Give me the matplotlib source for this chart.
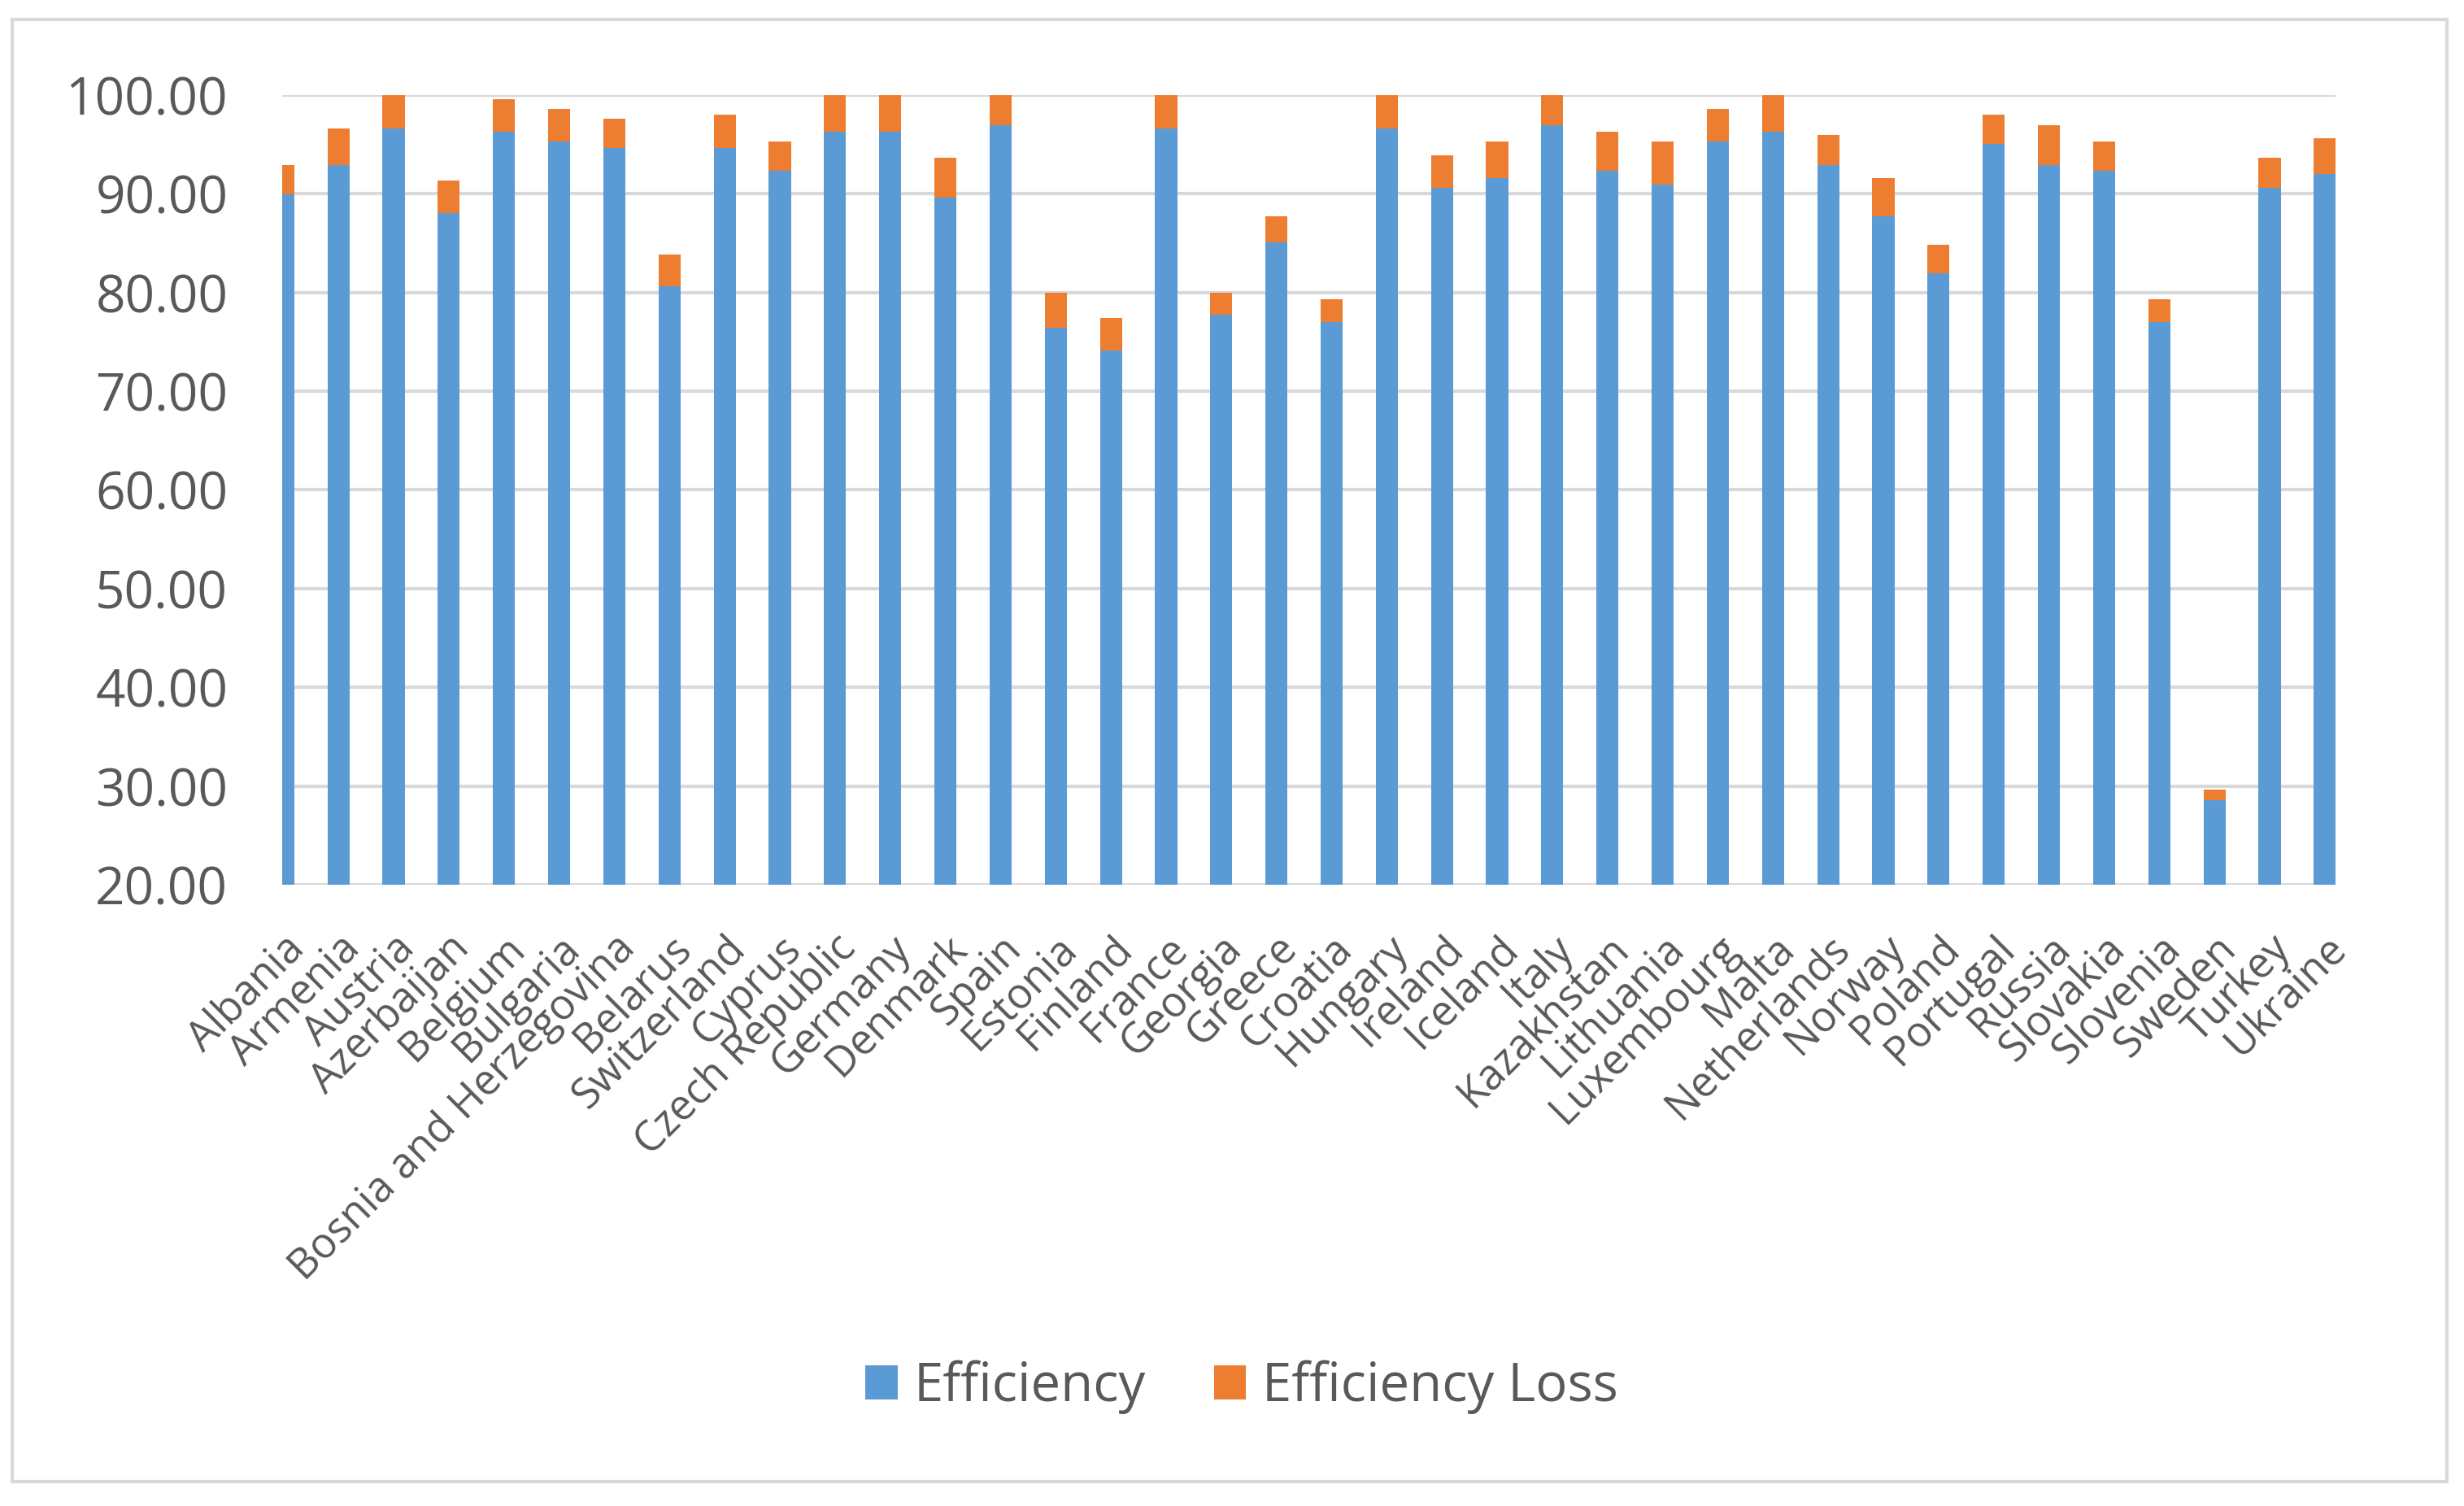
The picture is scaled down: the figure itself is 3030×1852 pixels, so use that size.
import matplotlib
matplotlib.use("Agg")
import matplotlib.pyplot as plt
from matplotlib.patches import Rectangle

countries = [
    "Albania", "Armenia", "Austria", "Azerbaijan", "Belgium", "Bulgaria",
    "Bosnia and Herzegovina", "Belarus", "Switzerland", "Cyprus",
    "Czech Republic", "Germany", "Denmark", "Spain", "Estonia", "Finland",
    "France", "Georgia", "Greece", "Croatia", "Hungary", "Ireland", "Iceland",
    "Italy", "Kazakhstan", "Lithuania", "Luxembourg", "Malta", "Netherlands",
    "Norway", "Poland", "Portugal", "Russia", "Slovakia", "Slovenia",
    "Sweden", "Turkey", "Ukraine",
]
efficiency = [
    89.9, 92.9, 96.6, 88.0, 96.3, 95.3, 94.6, 80.6, 94.6, 92.3,
    96.3, 96.3, 89.6, 96.9, 76.4, 74.1, 96.6, 77.7, 85.1, 77.0,
    96.6, 90.6, 91.6, 96.9, 92.3, 90.9, 95.3, 96.3, 92.9, 87.7,
    81.9, 95.0, 92.9, 92.3, 77.0, 28.6, 90.6, 92.0,
]
total = [
    92.9, 96.6, 100.0, 91.3, 99.6, 98.6, 97.6, 83.8, 98.0, 95.3,
    100.0, 100.0, 93.6, 100.0, 80.0, 77.4, 100.0, 80.0, 87.7, 79.3,
    100.0, 93.9, 95.3, 100.0, 96.3, 95.3, 98.6, 100.0, 95.9, 91.6,
    84.8, 98.0, 96.9, 95.3, 79.3, 29.6, 93.6, 95.6,
]
loss = [t - e for t, e in zip(total, efficiency)]

BLUE, ORANGE = "#5B9BD5", "#ED7D31"
INK, GRID = "#595959", "#D9D9D9"

plt.rcParams.update({"font.family": ["Open Sans", "DejaVu Sans"]})

fig = plt.figure(figsize=(30.30, 18.52), dpi=100)
ax = fig.add_axes([0.1145, 0.4125, 0.8335, 0.5245])

x = list(range(len(countries)))
ax.bar(x, efficiency, width=0.4, color=BLUE, label="Efficiency", zorder=3)
ax.bar(x, loss, width=0.4, bottom=efficiency, color=ORANGE,
       label="Efficiency Loss", zorder=3)

ax.set_ylim(20, 100)
ax.set_xlim(-0.02, 37.2)
ax.set_yticks(range(20, 101, 10))
ax.set_yticklabels([f"{v:.2f}" for v in range(20, 101, 10)])
ax.yaxis.grid(True, color=GRID, lw=3, zorder=0)
ax.set_axisbelow(True)
for s in ax.spines.values():
    s.set_visible(False)
ax.tick_params(axis="y", length=0, pad=48, labelsize=46, labelcolor=INK)
ax.tick_params(axis="x", length=0, pad=38, labelsize=37, labelcolor=INK)
ax.set_xticks(x)
ax.set_xticklabels(countries, rotation=45, ha="right",
                   rotation_mode="anchor")

fig.legend(loc="center", bbox_to_anchor=(0.504, 0.079), ncol=2,
           frameon=False, fontsize=47, labelcolor=INK, handlelength=0.6,
           handleheight=0.6, handletextpad=0.3, columnspacing=1.3)

fig.patches.append(Rectangle((0.005, 0.016), 0.988, 0.971,
                             transform=fig.transFigure, fill=False,
                             edgecolor=GRID, lw=3))

fig.savefig("out.png", dpi=100, facecolor="white")
